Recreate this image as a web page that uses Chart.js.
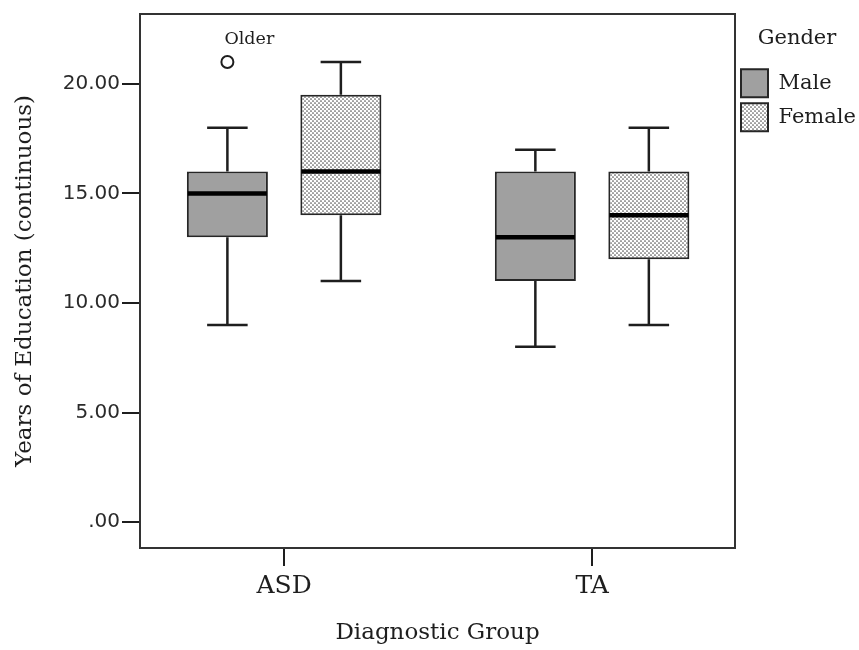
<!DOCTYPE html>
<html>
<head>
<meta charset="utf-8">
<script src="https://cdn.jsdelivr.net/npm/chart.js@4"></script>
<style>
  html, body { margin: 0; padding: 0; background: #fff; }
</style>
</head>
<body>
<canvas id="edu" width="859" height="650"></canvas>
<script>
// Diagnostic groups and their positions on the x axis
const groups = ['ASD', 'TA'];
const groupPos = [1, 2];

// Box plot summaries per group: [ASD, TA]
const maleMin = [9, 8];
const maleQ1 = [13, 11];
const maleMedian = [15, 13];
const maleQ3 = [16, 16];
const maleMax = [18, 17];

const femaleMin = [11, 9];
const femaleQ1 = [14, 12];
const femaleMedian = [16, 14];
const femaleQ3 = [19.5, 16];
const femaleMax = [21, 18];

// Outliers: group index, dataset index (0 = Male), value, label
const outlierGroup = [0];
const outlierSeries = [0];
const outlierValue = [21];
const outlierLabel = ['Older'];

const yTickValues = [0, 5, 10, 15, 20];
const yTickLabels = ['.00', '5.00', '10.00', '15.00', '20.00'];

const serif = 'DejaVu Serif';
const ink = '#1e1e1e';

// light dotted fill for the female boxes
function dotPattern() {
    const c = document.createElement('canvas');
    c.width = 4;
    c.height = 4;
    const g = c.getContext('2d');
    g.fillStyle = '#ffffff';
    g.fillRect(0, 0, 4, 4);
    g.fillStyle = '#555';
    [[1, 1], [3, 3]].forEach(p => {
        g.beginPath();
        g.arc(p[0], p[1], 0.85, 0, Math.PI * 2);
        g.fill();
    });
    return g.createPattern(c, 'repeat');
}

function boxes(q1, q3) {
    return groupPos.map((x, i) => ({ x: x, y: [q1[i], q3[i]] }));
}

// whiskers, caps, medians and outlier markers on top of the bars
const boxWhiskers = {
    id: 'boxWhiskers',
    afterDatasetsDraw(chart) {
        const ctx = chart.ctx;
        const y = chart.scales.y;
        ctx.save();
        ctx.strokeStyle = ink;
        chart.data.datasets.forEach((ds, di) => {
            chart.getDatasetMeta(di).data.forEach((bar, i) => {
                const x = bar.x;
                const half = bar.width / 2;
                const yHi = y.getPixelForValue(ds.whiskerHigh[i]);
                const yLo = y.getPixelForValue(ds.whiskerLow[i]);
                const yQ3 = y.getPixelForValue(ds.data[i].y[1]);
                const yQ1 = y.getPixelForValue(ds.data[i].y[0]);
                const yMed = y.getPixelForValue(ds.median[i]);
                ctx.lineWidth = 2.5;
                ctx.beginPath();
                ctx.moveTo(x, yQ3);
                ctx.lineTo(x, yHi);
                ctx.moveTo(x - half / 2, yHi);
                ctx.lineTo(x + half / 2, yHi);
                ctx.moveTo(x, yQ1);
                ctx.lineTo(x, yLo);
                ctx.moveTo(x - half / 2, yLo);
                ctx.lineTo(x + half / 2, yLo);
                ctx.stroke();
                ctx.lineWidth = 4.5;
                ctx.strokeStyle = '#000';
                ctx.beginPath();
                ctx.moveTo(x - half + 1, yMed);
                ctx.lineTo(x + half - 1, yMed);
                ctx.stroke();
                ctx.strokeStyle = ink;
            });
        });

        outlierValue.forEach((v, k) => {
            const bar = chart.getDatasetMeta(outlierSeries[k]).data[outlierGroup[k]];
            const cy = y.getPixelForValue(v);
            ctx.lineWidth = 2;
            ctx.fillStyle = '#fff';
            ctx.beginPath();
            ctx.arc(bar.x, cy, 6, 0, Math.PI * 2);
            ctx.fill();
            ctx.stroke();
            ctx.fillStyle = ink;
            ctx.font = '17.5px "' + serif + '"';
            ctx.textAlign = 'left';
            ctx.textBaseline = 'middle';
            ctx.fillText(outlierLabel[k], bar.x - 3, cy - 23);
        });
        ctx.restore();
    }
};

// frame round the plot area
const plotFrame = {
    id: 'plotFrame',
    afterDraw(chart) {
        const a = chart.chartArea;
        const ctx = chart.ctx;
        ctx.save();
        ctx.strokeStyle = '#333';
        ctx.lineWidth = 2;
        ctx.strokeRect(a.left, a.top, a.right - a.left, a.bottom - a.top);
        ctx.restore();
    }
};

new Chart(document.getElementById('edu'), {
    type: 'bar',
    data: {
        datasets: [{
            label: 'Male',
            data: boxes(maleQ1, maleQ3),
            median: maleMedian,
            whiskerLow: maleMin,
            whiskerHigh: maleMax,
            backgroundColor: '#a0a0a0',
            borderColor: '#262626',
            borderWidth: 2,
            borderSkipped: false
        }, {
            label: 'Female',
            data: boxes(femaleQ1, femaleQ3),
            median: femaleMedian,
            whiskerLow: femaleMin,
            whiskerHigh: femaleMax,
            backgroundColor: dotPattern(),
            borderColor: '#262626',
            borderWidth: 2,
            borderSkipped: false
        }]
    },
    options: {
        responsive: false,
        animation: false,
        categoryPercentage: 0.737,
        barPercentage: 0.714,
        layout: { padding: { top: 13, right: 0, left: 0, bottom: 0 } },
        plugins: {
            tooltip: { enabled: false },
            legend: {
                position: 'right',
                align: 'start',
                maxWidth: 124,
                title: {
                    display: true,
                    text: 'Gender',
                    color: ink,
                    font: { family: serif, size: 21 },
                    padding: { top: 15, bottom: 10 }
                },
                labels: {
                    color: ink,
                    font: { family: serif, size: 21 },
                    boxWidth: 27,
                    boxHeight: 28,
                    padding: 6
                }
            }
        },
        scales: {
            x: {
                type: 'linear',
                min: 0.532,
                max: 2.464,
                offset: false,
                afterBuildTicks: scale => {
                    scale.ticks = groupPos.map(v => ({ value: v }));
                },
                afterFit: scale => { scale.height = 102; },
                ticks: {
                    callback: v => groups[groupPos.indexOf(v)],
                    color: ink,
                    font: { family: serif, size: 25 },
                    padding: 5,
                    autoSkip: false,
                    maxRotation: 0
                },
                grid: {
                    offset: false,
                    drawOnChartArea: false,
                    tickLength: 18,
                    color: ink,
                    lineWidth: 2
                },
                border: { color: '#333', width: 2 },
                title: {
                    display: true,
                    text: 'Diagnostic Group',
                    color: ink,
                    font: { family: serif, size: 23 },
                    padding: { top: 0, bottom: 3 }
                }
            },
            y: {
                min: -1.18,
                max: 23.19,
                afterBuildTicks: scale => {
                    scale.ticks = yTickValues.map(v => ({ value: v }));
                },
                afterFit: scale => { scale.width = 140; },
                ticks: {
                    callback: v => yTickLabels[yTickValues.indexOf(v)],
                    color: '#2a2a2a',
                    font: { family: 'DejaVu Sans', size: 20 },
                    padding: 2
                },
                grid: {
                    drawOnChartArea: false,
                    tickLength: 18,
                    color: ink,
                    lineWidth: 2
                },
                border: { color: '#333', width: 2 },
                title: {
                    display: true,
                    text: 'Years of Education (continuous)',
                    color: ink,
                    font: { family: serif, size: 23 },
                    padding: { top: 11, bottom: 0 }
                }
            }
        }
    },
    plugins: [boxWhiskers, plotFrame]
});
</script>
</body>
</html>
